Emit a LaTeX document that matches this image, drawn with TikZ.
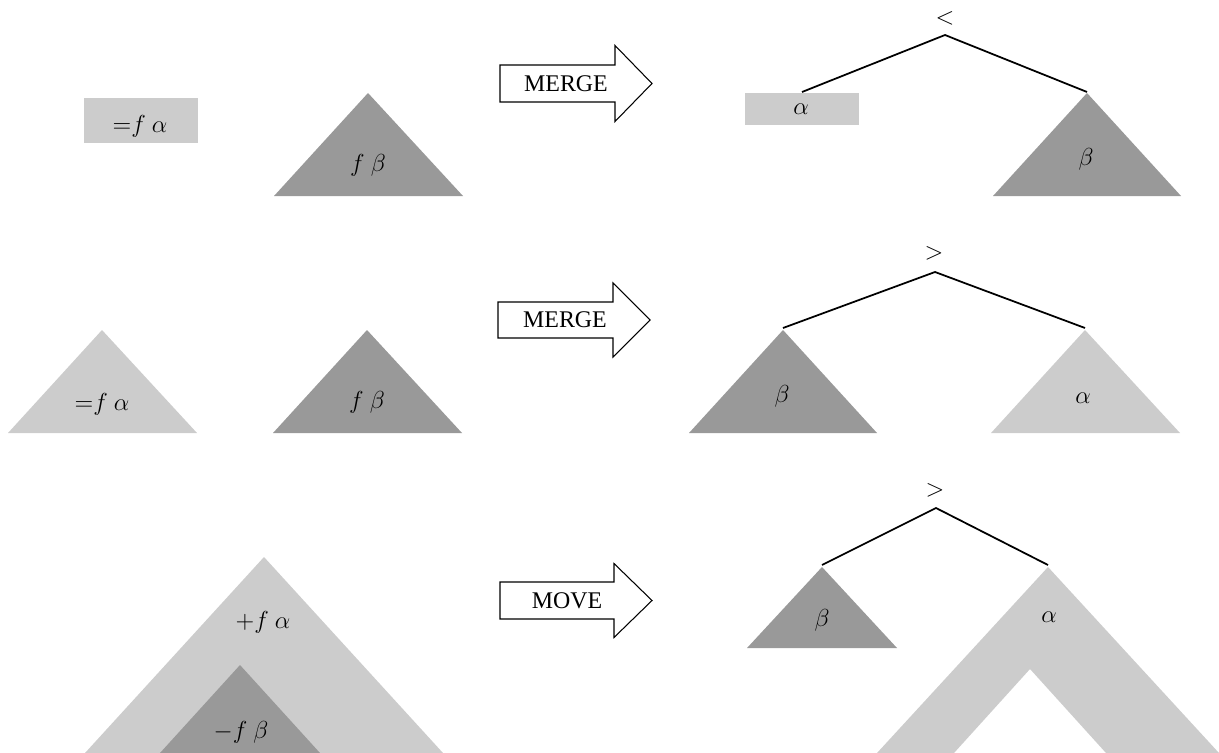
\RequirePackage{fix-cm}
\documentclass[tikz,border=0pt]{standalone}
\usepackage{fontspec}
\setmainfont{Liberation Serif}
\definecolor{lightfill}{gray}{0.8}
\definecolor{darkfill}{gray}{0.6}

\begin{document}
\begin{tikzpicture}[x=0.02cm,y=-0.02cm,inner sep=0pt,outer sep=0pt,
lighttree/.style={fill=lightfill},
darktree/.style={fill=darkfill},
branch/.style={draw,line width=1pt},
opblock/.style={draw,line width=0.6pt},
oplabel/.style={font=\fontsize{13.6}{16}\selectfont},
mathlabel/.style={anchor=base,font=\fontsize{14}{17}\selectfont}]

\useasboundingbox (0,0) rectangle (1219,753);

% row 1: merge with a selector head
\fill[lighttree] (84,98) rectangle (198,143);
\node[mathlabel] (a1) at (140,133) {$\mathord{=}f\ \alpha$};
\coordinate (b1top) at (368,93);
\fill[darktree] (b1top) -- ++(95,103) -- ++(-189,0) -- cycle;
\node[mathlabel] (b1) at (368,172) {$f\ \beta$};

\node[oplabel] (m1) at (566,83.5) {MERGE};
\draw[opblock] (500,83.5) ++(0,-18.5) -- ++(115,0) -- ++(0,-19.5) -- ++(37,38) -- ++(-37,38) -- ++(0,-19.5) -- ++(-115,0) -- cycle;

\node[mathlabel,anchor=center] (op1) at (945,18) {$<$};
\coordinate (r1) at (945,35);
\coordinate (r1l) at (802,92);
\coordinate (r1r) at (1087,92);
\draw[branch] (r1l) -- (r1) -- (r1r);
\fill[lighttree] (745,93) rectangle (859,125);
\node[mathlabel] (t1a) at (801,115) {$\alpha$};
\fill[darktree] (1087,93) -- ++(94,103) -- ++(-188,0) -- cycle;
\node[mathlabel] (t1b) at (1086,166) {$\beta$};

% row 2: merge with a complex head
\coordinate (a2top) at (102,330);
\fill[lighttree] (a2top) -- ++(95,103) -- ++(-189,0) -- cycle;
\node[mathlabel] (a2) at (102,410) {$\mathord{=}f\ \alpha$};
\coordinate (b2top) at (367,330);
\fill[darktree] (b2top) -- ++(95,103) -- ++(-189,0) -- cycle;
\node[mathlabel] (b2) at (367,408) {$f\ \beta$};

\node[oplabel] (m2) at (565,320) {MERGE};
\draw[opblock] (498,320) ++(0,-18) -- ++(115,0) -- ++(0,-19) -- ++(37,37) -- ++(-37,37) -- ++(0,-19) -- ++(-115,0) -- cycle;

\node[mathlabel,anchor=center] (op2) at (934,253) {$>$};
\coordinate (r2) at (935,272);
\coordinate (r2l) at (783,328);
\coordinate (r2r) at (1085,328);
\draw[branch] (r2l) -- (r2) -- (r2r);
\fill[darktree] (783,330) -- ++(94,103) -- ++(-188,0) -- cycle;
\node[mathlabel] (t2b) at (782,402) {$\beta$};
\fill[lighttree] (1085,330) -- ++(95,103) -- ++(-189,0) -- cycle;
\node[mathlabel] (t2a) at (1083,403) {$\alpha$};

% row 3: move
\coordinate (a3top) at (264,557);
\fill[lighttree] (a3top) -- ++(179,196) -- ++(-358,0) -- cycle;
\node[mathlabel] (a3) at (263,628) {$\mathord{+}f\ \alpha$};
\coordinate (b3top) at (240,665);
\fill[darktree] (b3top) -- ++(80,88) -- ++(-160,0) -- cycle;
\node[mathlabel] (b3) at (241,738) {$\mathord{-}f\ \beta$};

\node[oplabel] (m3) at (567,600.5) {MOVE};
\draw[opblock] (500,600.5) ++(0,-18.5) -- ++(114,0) -- ++(0,-18.5) -- ++(38,37) -- ++(-38,37) -- ++(0,-18.5) -- ++(-114,0) -- cycle;

\node[mathlabel,anchor=center] (op3) at (935,490) {$>$};
\coordinate (r3) at (936,508);
\coordinate (r3l) at (822,565);
\coordinate (r3r) at (1048,565);
\draw[branch] (r3l) -- (r3) -- (r3r);
\fill[darktree] (822,567) -- ++(75,81) -- ++(-150,0) -- cycle;
\node[mathlabel] (t3b) at (822,626) {$\beta$};
\fill[lighttree,even odd rule] (1048,567) -- ++(171,186) -- ++(-342,0) -- cycle
  (1030,669) -- ++(76,84) -- ++(-152,0) -- cycle;
\node[mathlabel] (t3a) at (1049,622) {$\alpha$};

\end{tikzpicture}
\end{document}
